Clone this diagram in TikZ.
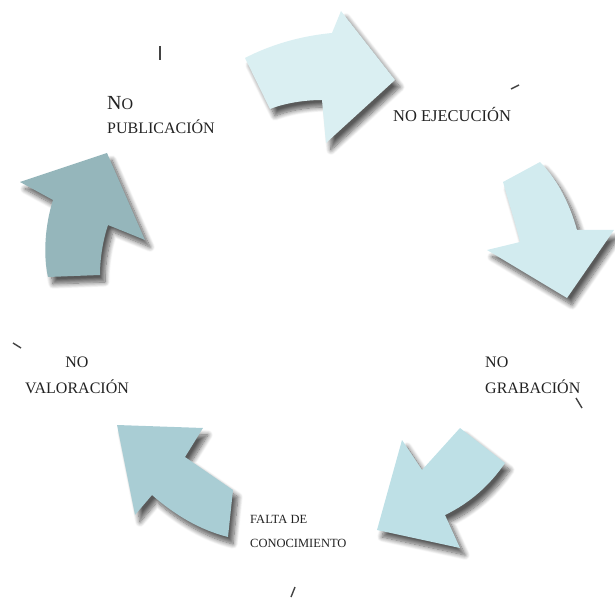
\documentclass[tikz,border=0pt]{standalone}
\usepackage{fontspec}
\setmainfont{Liberation Serif}
\usetikzlibrary{shadows.blur}
\definecolor{palecyan}{HTML}{DAEFF2}
\definecolor{lightcyan}{HTML}{D2EBEF}
\definecolor{midcyan}{HTML}{BEE0E6}
\definecolor{greycyan}{HTML}{A9CDD4}
\definecolor{darkcyan}{HTML}{95B6BB}
\definecolor{txtgrey}{HTML}{222222}
\begin{document}
\begin{tikzpicture}[x=1pt,y=-1pt]
        \tikzstyle{every node}=[inner sep=0pt,text=txtgrey];
        \tikzstyle{bigarrow}=[blur shadow={shadow xshift=5pt,shadow yshift=-7pt,shadow blur radius=5pt,shadow blur steps=10,shadow opacity=65}];
        \tikzstyle{biglabel}=[font=\fontsize{16}{18}\selectfont];
        \tikzstyle{smalllabel}=[font=\fontsize{12.5}{14}\selectfont];
        \tikzstyle{tick}=[line width=1.4pt,draw=txtgrey!85];
        \useasboundingbox (0,0) rectangle (615,601);

        % top arrow
        \fill[bigarrow,fill=palecyan] (245,58) .. controls (270,45) and (300,36) .. (332,33)
          -- (341,11) -- (395,80) -- (326,143) -- (322,100)
          .. controls (305,100) and (285,103) .. (270,109) -- cycle;
        % right arrow
        \fill[bigarrow,fill=lightcyan] (503,182) -- (540,162)
          .. controls (558,180) and (570,205) .. (577,230)
          -- (614,230) -- (567,298) -- (487,250) -- (520,242)
          .. controls (515,222) and (508,200) .. (503,182) -- cycle;
        % lower right arrow
        \fill[bigarrow,fill=midcyan] (402,440) -- (422,470) -- (460,428) -- (505,463)
          .. controls (490,485) and (470,503) .. (445,515)
          -- (460,548) -- (377,530) -- cycle;
        % lower left arrow
        \fill[bigarrow,fill=greycyan] (117,425) -- (203,428) -- (185,457) -- (233,490)
          -- (228,537) .. controls (200,530) and (175,515) .. (152,495)
          -- (135,515) -- cycle;
        % upper left arrow
        \fill[bigarrow,fill=darkcyan] (20,182) -- (107,153) -- (145,240) -- (108,225)
          .. controls (103,240) and (100,258) .. (100,275) -- (48,277)
          .. controls (43,255) and (45,225) .. (53,200) -- cycle;

        \node[biglabel,anchor=base west] (nopub) at (107,110) {{\fontsize{20}{20}\selectfont N}O};
        \node[biglabel,anchor=base west] (pub) at (107,134) {PUBLICACIÓN};
        \node[biglabel,anchor=base west,font=\fontsize{16.5}{18}\selectfont] (eje) at (393,122) {NO EJECUCIÓN};
        \node[biglabel,anchor=base west] (nogra) at (485,367) {NO};
        \node[biglabel,anchor=base west] (gra) at (485,393) {GRABACIÓN};
        \node[biglabel,anchor=base] (noval) at (77,367) {NO};
        \node[biglabel,anchor=base] (val) at (77,393) {VALORACIÓN};
        \node[smalllabel,anchor=base west] (falta) at (250,523) {FALTA DE};
        \node[smalllabel,anchor=base west] (cono) at (250,547) {CONOCIMIENTO};

        % stray marks
        \foreach \xa/\ya/\xb/\yb in {160/46/160/60,511/89/519/85,13/343/21/348,576/398/582/408,291/597/295/587}{
          \draw[tick] (\xa,\ya) -- (\xb,\yb);
        }
      \end{tikzpicture}
\end{document}
